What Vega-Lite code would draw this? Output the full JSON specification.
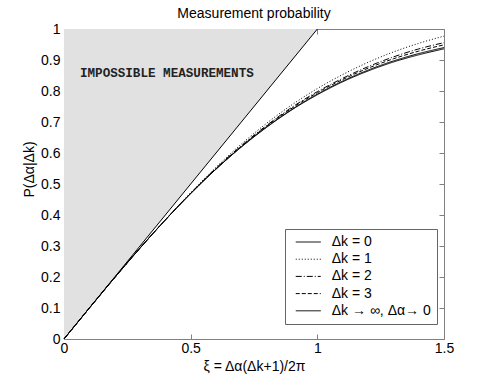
{
  "$schema": "https://vega.github.io/schema/vega-lite/v6.json",
  "width": 380,
  "height": 310,
  "autosize": {"type": "none"},
  "padding": {"left": 64, "top": 29, "right": 47, "bottom": 43},
  "background": "white",
  "title": {"text": "Measurement probability", "font": "Liberation Sans", "fontSize": 14, "fontWeight": "normal", "color": "black", "offset": 11, "dy": 21, "baseline": "alphabetic", "anchor": "middle", "frame": "group"},
  "config": {
    "view": {"stroke": "#808080", "strokeWidth": 1},
    "axis": {"domain": false, "grid": false, "tickColor": "#808080", "tickSize": -5, "labelFont": "Liberation Sans", "labelFontSize": 14, "labelColor": "black", "labelFlush": false, "labelOverlap": false, "titleFont": "Liberation Sans", "titleFontSize": 14, "titleFontWeight": "normal", "titleColor": "black"}
  },
  "datasets": {
    "region": [{"x": 0, "y": 0, "y2": 1}, {"x": 1, "y": 1, "y2": 1}],
    "curves": [
      {"x": 0.0, "k0": 0.0, "k1": 0.0, "k2": 0.0, "k3": 0.0, "kinf": 0.0},
      {"x": 0.1, "k0": 0.0997, "k1": 0.0997, "k2": 0.0997, "k3": 0.0997, "kinf": 0.0997},
      {"x": 0.2, "k0": 0.1979, "k1": 0.1979, "k2": 0.1979, "k3": 0.1979, "kinf": 0.1979},
      {"x": 0.3, "k0": 0.2931, "k1": 0.2931, "k2": 0.2931, "k3": 0.2931, "kinf": 0.2931},
      {"x": 0.4, "k0": 0.3839, "k1": 0.3849, "k2": 0.3841, "k3": 0.3840, "kinf": 0.3839},
      {"x": 0.5, "k0": 0.4691, "k1": 0.4721, "k2": 0.4701, "k3": 0.4701, "kinf": 0.4691},
      {"x": 0.6, "k0": 0.5479, "k1": 0.5539, "k2": 0.5509, "k3": 0.5494, "kinf": 0.5479},
      {"x": 0.7, "k0": 0.6192, "k1": 0.6287, "k2": 0.6237, "k3": 0.6217, "kinf": 0.6197},
      {"x": 0.8, "k0": 0.6830, "k1": 0.6960, "k2": 0.6890, "k3": 0.6870, "kinf": 0.6840},
      {"x": 0.9, "k0": 0.7395, "k1": 0.7557, "k2": 0.7477, "k3": 0.7447, "kinf": 0.7407},
      {"x": 1.0, "k0": 0.7879, "k1": 0.8079, "k2": 0.7979, "k3": 0.7944, "kinf": 0.7899},
      {"x": 1.1, "k0": 0.8297, "k1": 0.8530, "k2": 0.8410, "k3": 0.8370, "kinf": 0.8320},
      {"x": 1.2, "k0": 0.8644, "k1": 0.8924, "k2": 0.8784, "k3": 0.8734, "kinf": 0.8674},
      {"x": 1.3, "k0": 0.8935, "k1": 0.9258, "k2": 0.9098, "k3": 0.9038, "kinf": 0.8968},
      {"x": 1.4, "k0": 0.9167, "k1": 0.9537, "k2": 0.9357, "k3": 0.9287, "kinf": 0.9207},
      {"x": 1.5, "k0": 0.9360, "k1": 0.9770, "k2": 0.9560, "k3": 0.9490, "kinf": 0.9400}
    ],
    "note": [{"x": 0.063, "y": 0.858, "label": "IMPOSSIBLE MEASUREMENTS"}]
  },
  "layer": [
    {
      "data": {"name": "region"},
      "mark": {"type": "area", "color": "#e1e1e1", "clip": true},
      "encoding": {
        "x": {"field": "x", "type": "quantitative", "scale": {"domain": [0, 1.5], "nice": false, "zero": false},
              "axis": {"orient": "bottom", "values": [0, 0.5, 1, 1.5], "labelExpr": "'' + datum.value", "labelPadding": 7, "title": "ξ = Δα(Δk+1)/2π", "titleY": 31, "titleBaseline": "alphabetic"}},
        "y": {"field": "y", "type": "quantitative", "scale": {"domain": [0, 1], "nice": false, "zero": false},
              "axis": {"orient": "left", "values": [0, 0.1, 0.2, 0.3, 0.4, 0.5, 0.6, 0.7, 0.8, 0.9, 1], "labelExpr": "'' + datum.value", "labelPadding": 9, "title": "P(Δα|Δk)", "titleX": -31, "titleY": 140, "titleAngle": -90, "titleAlign": "center", "titleBaseline": "alphabetic"}},
        "y2": {"field": "y2"}
      }
    },
    {
      "data": {"name": "region"},
      "mark": {"type": "line", "color": "black", "strokeWidth": 1},
      "encoding": {
        "x": {"field": "x", "type": "quantitative", "scale": {"domain": [0, 1.5], "nice": false, "zero": false},
              "axis": {"orient": "top", "values": [0, 0.5, 1, 1.5], "labels": false, "title": null}},
        "y": {"field": "y", "type": "quantitative", "scale": {"domain": [0, 1], "nice": false, "zero": false},
              "axis": {"orient": "right", "values": [0, 0.1, 0.2, 0.3, 0.4, 0.5, 0.6, 0.7, 0.8, 0.9, 1], "labels": false, "title": null}}
      }
    },
    {
      "data": {"name": "curves"},
      "transform": [{"fold": ["k0", "k1", "k2", "k3", "kinf"], "as": ["series", "p"]}],
      "mark": {"type": "line", "color": "black", "strokeWidth": 1, "interpolate": "monotone"},
      "encoding": {
        "x": {"field": "x", "type": "quantitative", "scale": {"domain": [0, 1.5], "nice": false, "zero": false}, "axis": null},
        "y": {"field": "p", "type": "quantitative", "scale": {"domain": [0, 1], "nice": false, "zero": false}, "axis": null},
        "strokeDash": {
          "field": "series", "type": "nominal",
          "scale": {"domain": ["k0", "k1", "k2", "k3", "kinf"], "range": [[1, 0], [1, 2], [6, 2, 1, 2], [4, 2], [1, 0]]},
          "legend": {
            "orient": "none", "legendX": 221, "legendY": 200, "title": null,
            "labelExpr": "{'k0': 'Δk = 0', 'k1': 'Δk = 1', 'k2': 'Δk = 2', 'k3': 'Δk = 3', 'kinf': 'Δk → ∞, Δα→ 0'}[datum.value]",
            "labelFont": "Liberation Sans", "labelFontSize": 14, "labelColor": "black", "labelOffset": 16.5,
            "symbolType": "M-2,0H2", "symbolSize": 156.25, "symbolOffset": 10.25, "symbolStrokeColor": "black", "symbolStrokeWidth": 1, "symbolFillColor": "transparent",
            "rowPadding": 3.2, "padding": 6, "fillColor": "white", "strokeColor": "#666666"
          }
        }
      }
    },
    {
      "data": {"name": "note"},
      "mark": {"type": "text", "font": "Liberation Mono", "fontWeight": "bold", "fontSize": 12.6, "color": "#222222", "align": "left", "baseline": "middle"},
      "encoding": {
        "x": {"field": "x", "type": "quantitative", "scale": {"domain": [0, 1.5], "nice": false, "zero": false}, "axis": null},
        "y": {"field": "y", "type": "quantitative", "scale": {"domain": [0, 1], "nice": false, "zero": false}, "axis": null},
        "text": {"field": "label"}
      }
    }
  ],
  "resolve": {"axis": {"x": "independent", "y": "independent"}}
}
